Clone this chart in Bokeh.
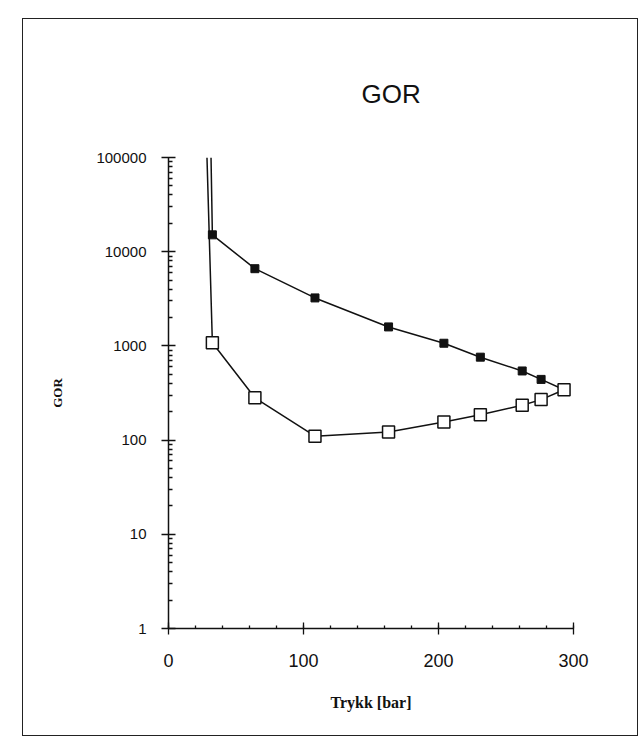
from bokeh.plotting import figure
from bokeh.embed import file_html
from bokeh.resources import INLINE
from bokeh.models import Range1d, FixedTicker

# Data
trykk = [32.5, 64, 108.5, 163, 204, 231, 262, 276, 293]
gor_fylt = [15100, 6600, 3230, 1590, 1067, 759, 542, 441, 342]
gor_apen = [1082, 281, 110, 122, 156, 186, 234, 269, 342]
# lines leaving the top of the chart (beyond 100000)
topp_trykk_fylt = 31.5
topp_trykk_apen = 28.5
topp_gor = 100000

x_ticks = [0, 100, 200, 300]
y_ticks = [1, 10, 100, 1000, 10000, 100000]

p = figure(width=616, height=718, y_axis_type="log",
           x_range=Range1d(0, 300), y_range=Range1d(1, 100000),
           output_backend="svg", toolbar_location=None,
           min_border_left=145, min_border_right=66,
           min_border_top=138, min_border_bottom=109,
           title="GOR")
p.styles = {"margin-left": "22px", "margin-top": "18px", "border": "1px solid #222"}

p.title.align = "left"
p.title.offset = 193
p.title.standoff = 97
p.title.text_font = "Liberation Sans"
p.title.text_font_size = "26px"
p.title.text_font_style = "normal"
p.title.text_color = "#111"

p.outline_line_color = None
p.grid.visible = False
p.background_fill_color = "white"
p.border_fill_color = "white"

p.xaxis.ticker = FixedTicker(ticks=x_ticks, minor_ticks=list(range(0, 301, 20)))
p.yaxis.ticker = FixedTicker(ticks=y_ticks,
                             minor_ticks=[m * 10 ** e for e in range(0, 5) for m in range(2, 10)])
p.yaxis.major_label_overrides = {v: str(v) for v in y_ticks}

for ax in (p.xaxis[0], p.yaxis[0]):
    ax.axis_line_color = "#111"
    ax.axis_line_width = 1.5
    ax.major_tick_line_color = "#111"
    ax.minor_tick_line_color = "#111"
    ax.major_tick_line_width = 1.3
    ax.minor_tick_line_width = 1.3
    ax.major_label_text_font = "Liberation Sans"
    ax.major_label_text_color = "#111"
    ax.axis_label_text_font = "Liberation Serif"
    ax.axis_label_text_font_style = "bold"
    ax.axis_label_text_color = "#111"

p.xaxis.major_tick_in = 6
p.xaxis.major_tick_out = 6
p.xaxis.minor_tick_in = 3
p.xaxis.minor_tick_out = 0
p.xaxis.major_label_standoff = 19
p.xaxis.major_label_text_font_size = "18px"
p.xaxis.axis_label = "Trykk [bar]"
p.xaxis.axis_label_text_font_size = "16px"
p.xaxis.axis_label_standoff = 24

p.yaxis.major_tick_in = 7
p.yaxis.major_tick_out = 7
p.yaxis.minor_tick_in = 4
p.yaxis.minor_tick_out = 0
p.yaxis.major_label_standoff = 15
p.yaxis.major_label_text_font_size = "15px"
p.yaxis.axis_label = "GOR"
p.yaxis.axis_label_text_font_size = "13px"
p.yaxis.axis_label_standoff = 28

# lines
p.line([topp_trykk_fylt] + trykk, [topp_gor] + gor_fylt, line_color="#111", line_width=1.5)
p.line([topp_trykk_apen] + trykk, [topp_gor] + gor_apen, line_color="#111", line_width=1.5)

p.scatter(trykk, gor_apen, marker="square", size=12, fill_color="white",
          line_color="#111", line_width=1.5)
p.scatter(trykk[:-1], gor_fylt[:-1], marker="square", size=8, fill_color="#111",
          line_color="#111", line_width=1)

open("out.html", "w").write(file_html(p, INLINE))
